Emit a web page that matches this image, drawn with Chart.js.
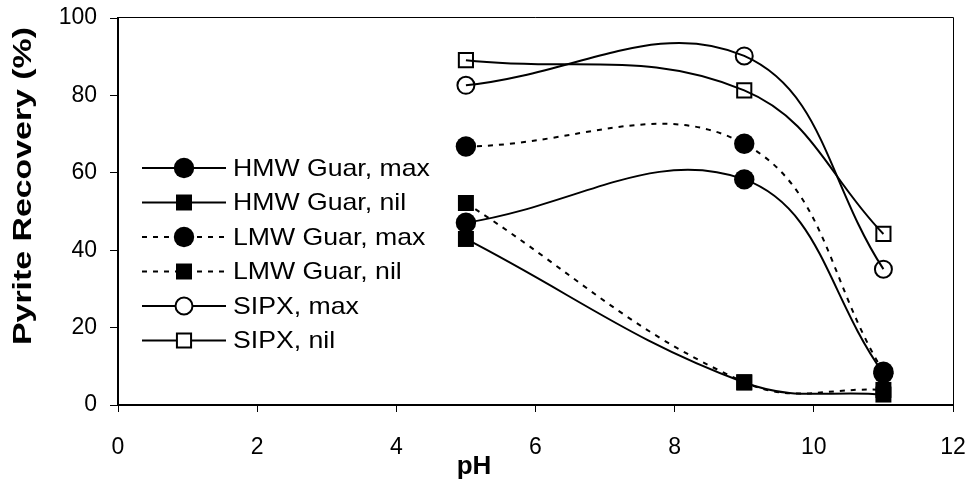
<!DOCTYPE html>
<html>
<head>
<meta charset="utf-8">
<script src="https://cdn.jsdelivr.net/npm/chart.js@4"></script>
<style>
  html, body { margin: 0; padding: 0; background: #fff; }
  #wrap { width: 970px; height: 481px; }
</style>
</head>
<body>
<div id="wrap"><canvas id="pyriteChart" width="970" height="481"></canvas></div>
<script>
// pH values and recoveries (%)
const phValues = [5, 9, 11];
const hmwGuarMax = [47.1, 58.3, 8.2];
const hmwGuarNil = [42.9, 5.8, 2.7];
const lmwGuarMax = [66.8, 67.5, 8.6];
const lmwGuarNil = [52.2, 5.9, 3.9];
const sipxMax = [82.6, 90.2, 35.1];
const sipxNil = [89.1, 81.3, 44.2];

const seriesLabels = ['HMW Guar, max', 'HMW Guar, nil', 'LMW Guar, max', 'LMW Guar, nil', 'SIPX, max', 'SIPX, nil'];
const xTicks = [0, 2, 4, 6, 8, 10, 12];
const yTicks = [0, 20, 40, 60, 80, 100];

const FONT = '"Liberation Sans", Arial, sans-serif';

function points(values) {
    return phValues.map((x, i) => ({ x: x, y: values[i] }));
}

function series(label, values, style, filled, dashed) {
    const square = style === 'rect';
    const r = filled ? (square ? 11.3 : 10.2) : (square ? 10 : 8.5);
    return {
        label: label,
        data: points(values),
        showLine: true,
        tension: 0.4,
        borderColor: '#000',
        borderWidth: 2,
        borderDash: dashed ? [5, 6] : [],
        pointStyle: style,
        pointRadius: r,
        pointHoverRadius: r,
        pointBackgroundColor: filled ? '#000' : 'rgba(0,0,0,0)',
        pointBorderColor: '#000',
        pointBorderWidth: filled ? 0 : 2,
        clip: false
    };
}

// draws the legend inside the plot, the plot frame and the axis titles
const decorations = {
    id: 'decorations',
    afterDraw(chart) {
        const ctx = chart.ctx;
        const area = chart.chartArea;
        ctx.save();
        ctx.strokeStyle = '#000';
        ctx.lineWidth = 1;
        ctx.beginPath();
        ctx.moveTo(area.left, area.top - 0.5);
        ctx.lineTo(area.right + 0.5, area.top - 0.5);
        ctx.lineTo(area.right + 0.5, area.bottom);
        ctx.stroke();

        // legend
        const rowTop = 168, rowGap = 34.5;
        chart.data.datasets.forEach((ds, i) => {
            const y = rowTop + i * rowGap;
            ctx.setLineDash(ds.borderDash);
            ctx.lineWidth = ds.borderWidth;
            ctx.beginPath();
            ctx.moveTo(142, y);
            ctx.lineTo(226, y);
            ctx.stroke();
            ctx.setLineDash([]);
            const cx = 184;
            const r = ds.pointRadius;
            ctx.beginPath();
            if (ds.pointStyle === 'rect') {
                const s = r * Math.SQRT1_2;
                ctx.rect(cx - s, y - s, 2 * s, 2 * s);
            } else {
                ctx.arc(cx, y, r, 0, Math.PI * 2);
            }
            if (ds.pointBorderWidth === 0) {
                ctx.fillStyle = '#000';
                ctx.fill();
            } else {
                ctx.fillStyle = '#fff';
                ctx.fill();
                ctx.lineWidth = ds.pointBorderWidth;
                ctx.stroke();
            }
            ctx.save();
            ctx.translate(233, y);
            ctx.scale(1.11, 1);
            ctx.fillStyle = '#000';
            ctx.font = '24px ' + FONT;
            ctx.textAlign = 'left';
            ctx.textBaseline = 'middle';
            ctx.fillText(ds.label, 0, 1);
            ctx.restore();
        });

        // axis titles
        ctx.fillStyle = '#000';
        ctx.font = 'bold 26px ' + FONT;
        ctx.textAlign = 'center';
        ctx.textBaseline = 'alphabetic';
        ctx.fillText('pH', 474, 474);

        ctx.save();
        ctx.translate(31, 186);
        ctx.rotate(-Math.PI / 2);
        const yTitle = 'Pyrite Recovery (%)';
        const w = ctx.measureText(yTitle).width;
        ctx.scale(318 / w, 1);
        ctx.fillText(yTitle, 0, 0);
        ctx.restore();
        ctx.restore();
    }
};

new Chart(document.getElementById('pyriteChart'), {
    type: 'line',
    data: {
        datasets: [
            series(seriesLabels[0], hmwGuarMax, 'circle', true, false),
            series(seriesLabels[1], hmwGuarNil, 'rect', true, false),
            series(seriesLabels[2], lmwGuarMax, 'circle', true, true),
            series(seriesLabels[3], lmwGuarNil, 'rect', true, true),
            series(seriesLabels[4], sipxMax, 'circle', false, false),
            series(seriesLabels[5], sipxNil, 'rect', false, false)
        ]
    },
    options: {
        responsive: false,
        animation: false,
        devicePixelRatio: 1,
        layout: { padding: { top: 18, right: 17, left: 0, bottom: 0 } },
        plugins: {
            legend: { display: false },
            tooltip: { enabled: false }
        },
        scales: {
            x: {
                type: 'linear',
                min: xTicks[0],
                max: xTicks[xTicks.length - 1],
                afterBuildTicks: s => { s.ticks = xTicks.map(v => ({ value: v })); },
                afterFit: s => { s.height = 76; s.paddingLeft = 0; s.paddingRight = 0; },
                ticks: { color: '#000', font: { family: FONT, size: 23 }, padding: 22, maxRotation: 0 },
                grid: { drawOnChartArea: false, tickLength: 7, color: '#000', lineWidth: 1 },
                border: { color: '#000', width: 2 }
            },
            y: {
                min: yTicks[0],
                max: yTicks[yTicks.length - 1],
                afterBuildTicks: s => { s.ticks = yTicks.map(v => ({ value: v })); },
                afterFit: s => { s.width = 118; s.paddingTop = 0; s.paddingBottom = 0; },
                ticks: { color: '#000', font: { family: FONT, size: 23 }, padding: 13 },
                grid: { drawOnChartArea: false, tickLength: 8, color: '#000', lineWidth: 1 },
                border: { color: '#000', width: 2 }
            }
        }
    },
    plugins: [decorations]
});
</script>
</body>
</html>
